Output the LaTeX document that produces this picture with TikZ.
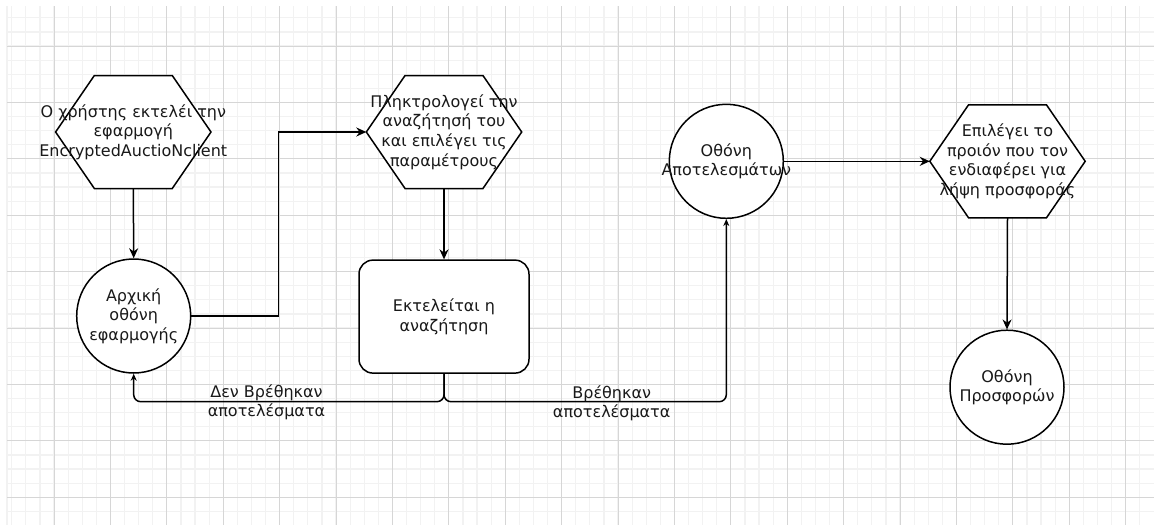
\documentclass[tikz,border=0pt]{standalone}
\usepackage{fontspec}
\setmainfont{DejaVu Sans}
\usetikzlibrary{arrows.meta,backgrounds}

% outline of a flat-topped hexagon laid over an invisible box node
\newcommand\hexoutline[1]{%
  \draw[shapeline, fill=white] (#1.west) -- ([xshift=38.75pt]#1.north west)
    -- ([xshift=-38.75pt]#1.north east) -- (#1.east)
    -- ([xshift=-38.75pt]#1.south east) -- ([xshift=38.75pt]#1.south west) -- cycle;}

\begin{document}
\begin{tikzpicture}[x=1pt,y=-1pt,
  shapeline/.style={line width=1.5pt, draw=black},
  txt/.style={font=\fontsize{16}{19.7}\selectfont, text=black!90, align=center, inner sep=0pt},
  lbl/.style={font=\fontsize{16}{19}\selectfont, text=black!90, align=center, inner sep=0pt},
  hexbox/.style={rectangle, inner sep=0pt, minimum width=155pt, minimum height=112.6pt},
  circ/.style={circle, shapeline, fill=white, inner sep=0pt, minimum size=114pt},
  proc/.style={rectangle, shapeline, fill=white, rounded corners=14pt, inner sep=0pt,
               minimum width=170pt, minimum height=113pt},
  flow/.style={line width=1.5pt, -{Stealth[length=10pt,width=9pt]}},
  back/.style={line width=1.5pt, rounded corners=7pt, -{Stealth[length=7pt,width=6pt]}},
  minorline/.style={draw=black!5, line width=1.2pt},
  majorline/.style={draw=black!16, line width=1pt}
]
\useasboundingbox (0,0) rectangle (1154,525);

% drawing-paper grid
\begin{scope}[on background layer]
  \fill[white] (0,0) rectangle (1154,525);
  \foreach \i in {0,...,80} \draw[minorline] ({11.7+14.1*\i},6) -- (11.7+14.1*\i,525);
  \foreach \j in {0,...,35} \draw[minorline] (7,{17.8+14.1*\j}) -- (1154,17.8+14.1*\j);
  \draw[minorline] (7,6) -- (7,525);
  \foreach \i in {0,...,19} \draw[majorline] ({54+56.4*\i},6) -- (54+56.4*\i,525);
  \foreach \j in {0,...,8} \draw[majorline] (7,{46+56.4*\j}) -- (1154,46+56.4*\j);
\end{scope}

% shapes
\node[hexbox] (h1) at (133.3,132) {};
\node[hexbox] (h2) at (444,132) {};
\node[hexbox] (h3) at (1007.5,161.3) {};
\hexoutline{h1}
\hexoutline{h2}
\hexoutline{h3}
\node[circ] (c1) at (133.7,316) {};
\node[proc] (r1) at (444,316.6) {};
\node[circ] (c2) at (726.3,161.3) {};
\node[circ] (c3) at (1007,387.2) {};

% texts
\node[txt] (h1t) at (h1) {Ο χρήστης εκτελέι την\\εφαρμογή\\EncryptedAuctioNclient};
\node[txt] (h2t) at (h2) {Πληκτρολογεί την\\αναζήτησή του\\και επιλέγει τις\\παραμέτρους};
\node[txt] (h3t) at (h3) {Επιλέγει το\\προιόν που τον\\ενδιαφέρει για\\λήψη προσφοράς};
\node[txt] (c1t) at (c1) {Αρχική\\οθόνη\\εφαρμογής};
\node[txt] (r1t) at (r1) {Εκτελείται η\\αναζήτηση};
\node[txt] (c2t) at (c2) {Οθόνη\\Αποτελεσμάτων};
\node[txt] (c3t) at (c3) {Οθόνη\\Προσφορών};

% connectors
\coordinate (lowrow) at (0,401.7);
\draw[flow] (h1.south) -- (c1.north);
\draw[flow] (c1.east) -- ++(87,0) |- (h2.west);
\draw[flow] (h2.south) -- (r1.north);
\draw[back] (r1.south) |- (lowrow -| c1.south) -- (c1.south);
\draw[back] (r1.south) |- (lowrow -| c2.south) -- (c2.south);
\draw[flow] (c2.east) -- (h3.west);
\draw[flow] (h3.south) -- (c3.north);

% branch labels
\node[lbl] (nofound) at (266.5,402) {Δεν Βρέθηκαν\\αποτελέσματα};
\node[lbl] (found) at (611.7,403) {Βρέθηκαν\\αποτελέσματα};
\end{tikzpicture}
\end{document}
